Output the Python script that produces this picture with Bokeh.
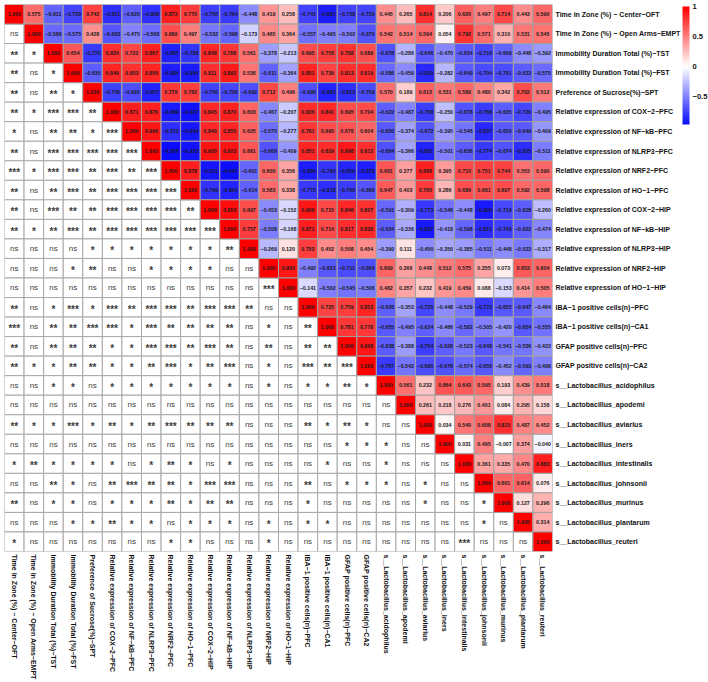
from bokeh.plotting import figure
from bokeh.models import ColumnDataSource, LinearColorMapper, ColorBar, FixedTicker, FactorRange
from bokeh.core.properties import value
from bokeh.embed import file_html
from bokeh.resources import INLINE
from bokeh.transform import transform
import math

labels = [
 "Time in Zone (%) − Center−OFT","Time in Zone (%) − Open Arms−EMPT","Immobility Duration Total (%)−TST",
 "Immobility Duration Total (%)−FST","Preference of Sucrose(%)−SPT","Relative expression of COX−2−PFC",
 "Relative expression of NF−kB−PFC","Relative expression of NLRP3−PFC","Relative expression of NRF2−PFC",
 "Relative expression of HO−1−PFC","Relative expression of COX−2−HIP","Relative expression of NF−kB−HIP",
 "Relative expression of NLRP3−HIP","Relative expression of NRF2−HIP","Relative expression of HO−1−HIP",
 "IBA−1 positive cells(n)−PFC","IBA−1 positive cells(n)−CA1","GFAP positive cells(n)−PFC","GFAP positive cells(n)−CA2",
 "s__Lactobacillus_acidophilus","s__Lactobacillus_apodemi","s__Lactobacillus_aviarius","s__Lactobacillus_iners",
 "s__Lactobacillus_intestinalis","s__Lactobacillus_johnsonii","s__Lactobacillus_murinus","s__Lactobacillus_plantarum",
 "s__Lactobacillus_reuteri"]

# upper triangle (from the diagonal rightwards), one list per row
corr_upper = [
 [1.000,0.575,-0.611,-0.729,0.742,-0.811,-0.620,-0.808,0.873,0.770,-0.756,-0.764,-0.448,0.419,0.258,-0.741,-0.881,-0.738,-0.729,0.445,0.265,0.814,0.206,0.620,0.497,0.714,0.443,0.590],
 [1.000,-0.586,-0.575,0.428,-0.663,-0.475,-0.568,0.689,0.497,-0.532,-0.598,-0.173,0.465,0.364,-0.557,-0.495,-0.502,-0.670,0.542,0.514,0.594,0.054,0.792,0.571,0.310,0.531,0.545],
 [1.000,0.654,-0.770,0.824,0.722,0.867,-0.867,-0.788,0.848,0.788,0.561,-0.378,-0.213,0.695,0.758,0.788,0.689,-0.678,-0.286,-0.646,-0.470,-0.634,-0.716,-0.609,-0.448,-0.392],
 [1.000,-0.635,0.849,0.803,0.850,-0.884,-0.894,0.811,0.892,0.536,-0.611,-0.364,0.851,0.739,0.813,0.819,-0.586,-0.459,-0.839,-0.282,-0.640,-0.704,-0.701,-0.633,-0.575],
 [1.000,-0.745,-0.692,-0.857,0.779,0.762,-0.740,-0.726,-0.692,0.712,0.496,-0.696,-0.860,-0.813,-0.709,0.570,0.189,0.613,0.531,0.589,0.480,0.342,0.702,0.512],
 [1.000,0.871,0.876,-0.889,-0.927,0.845,0.870,0.603,-0.467,-0.207,0.826,0.841,0.695,0.704,-0.622,-0.487,-0.758,-0.250,-0.678,-0.768,-0.635,-0.720,-0.495],
 [1.000,0.906,-0.813,-0.909,0.840,0.855,0.625,-0.570,-0.277,0.781,0.695,0.676,0.604,-0.650,-0.374,-0.672,-0.395,-0.546,-0.837,-0.650,-0.649,-0.409],
 [1.000,-0.956,-0.923,0.920,0.923,0.661,-0.669,-0.409,0.851,0.829,0.898,0.812,-0.684,-0.366,-0.861,-0.501,-0.636,-0.774,-0.674,-0.825,-0.511],
 [1.000,0.878,-0.911,-0.947,-0.601,0.600,0.356,-0.886,-0.795,-0.856,-0.878,0.661,0.377,0.866,0.395,0.710,0.751,0.744,0.553,0.590],
 [1.000,-0.799,-0.864,-0.614,0.583,0.338,-0.772,-0.818,-0.760,-0.668,0.647,0.403,0.765,0.286,0.689,0.681,0.697,0.592,0.598],
 [1.000,0.953,0.697,-0.453,-0.152,0.909,0.715,0.846,0.807,-0.591,-0.309,-0.773,-0.546,-0.448,-0.900,-0.719,-0.628,-0.260],
 [1.000,0.757,-0.508,-0.168,0.871,0.714,0.817,0.836,-0.634,-0.336,-0.897,-0.418,-0.598,-0.821,-0.743,-0.622,-0.474],
 [1.000,-0.269,0.120,0.753,0.452,0.508,0.454,-0.390,0.111,-0.450,-0.350,-0.385,-0.511,-0.448,-0.523,-0.317],
 [1.000,0.905,-0.492,-0.653,-0.711,-0.694,0.609,0.366,0.448,0.512,0.575,0.355,0.073,0.653,0.604],
 [1.000,-0.141,-0.502,-0.545,-0.506,0.482,0.357,0.232,0.419,0.459,0.088,-0.153,0.414,0.505],
 [1.000,0.725,0.759,0.853,-0.626,-0.353,-0.725,-0.448,-0.529,-0.772,-0.655,-0.647,-0.464],
 [1.000,0.781,0.778,-0.655,-0.495,-0.624,-0.466,-0.582,-0.505,-0.420,-0.654,-0.555],
 [1.000,0.908,-0.638,-0.388,-0.754,-0.626,-0.523,-0.648,-0.541,-0.536,-0.422],
 [1.000,-0.767,-0.542,-0.695,-0.676,-0.574,-0.655,-0.452,-0.593,-0.498],
 [1.000,0.561,0.232,0.664,0.643,0.595,0.193,0.439,0.518],
 [1.000,0.261,0.218,0.276,0.401,0.084,0.295,0.158],
 [1.000,0.034,0.540,0.608,0.815,0.487,0.452],
 [1.000,0.031,0.495,-0.007,0.374,-0.040],
 [1.000,0.361,0.335,0.470,0.883],
 [1.000,0.601,0.614,0.076],
 [1.000,0.127,0.296],
 [1.000,0.314],
 [1.000],
]

# lower triangle significance, row by row
sig_lower = [
 "",
 "ns",
 "** *",
 "** ns *",
 "** ns ** *",
 "** * *** *** **",
 "* ns ** ** * ***",
 "** ns *** *** *** *** ***",
 "*** * *** *** ** *** ** ***",
 "** ns ** *** ** *** *** *** ***",
 "** ns *** ** ** *** *** *** *** **",
 "** * ** *** ** *** *** *** *** *** ***",
 "ns ns ns ns * * * * * * * **",
 "ns ns ns * ** ns ns * * * * ns ns",
 "ns ns ns ns ns ns ns ns ns ns ns ns ns ***",
 "** ns * *** * *** ** *** *** ** *** *** ** ns ns",
 "*** ns ** ** *** *** * *** ** ** ** ** ns * ns **",
 "** ns ** ** ** * * *** *** ** *** ** ns ** ns ** **",
 "** * * ** ** * * ** *** * ** *** ns * ns *** ** ***",
 "ns ns * * ns * * * * * * * ns * ns * * ** *",
 "ns ns ns ns ns ns ns ns ns ns ns ns ns ns ns ns ns ns ns ns",
 "** * * *** * ** * ** *** ** ** ** ns ns ns ** * ** * ns ns",
 "ns ns ns ns ns ns ns ns ns ns ns ns ns ns ns ns ns * * * ns ns",
 "* ** * * * * ns * ** * ns * ns ns ns ns * ns ns * ns ns ns",
 "ns ns ** * ns ** *** ** ** * *** *** ns ns ns ** ns * * * ns * ns ns",
 "** ns * * ns * * * ** * ** ** ns ns ns * ns ns ns ns ns * ns ns *",
 "ns ns ns * * ** * * ns * * * ns * ns * * ns ns ns ns ns ns ns * ns",
 "* ns ns ns ns ns ns ns * * ns ns ns * ns ns ns ns ns ns ns ns ns *** ns ns ns",
]

cb_ticks = [-0.5, 0, 0.5, 1]

low = min(min(r) for r in corr_upper)
def col(v):
    if v < 0:
        c = int(round(255 * (1 + v)))
        return f"#{c:02x}{c:02x}ff"
    c = int(round(255 * (1 - v)))
    return f"#ff{c:02x}{c:02x}"
palette = [col(low + (1 - low) * i / 255) for i in range(256)]
mapper = LinearColorMapper(palette=palette, low=low, high=1)

ux, uy, uv, ut = [], [], [], []
for i, row in enumerate(corr_upper):
    for k, v in enumerate(row):
        ux.append(labels[i + k]); uy.append(labels[i]); uv.append(v); ut.append(f"{v:.3f}".replace("-", "−"))
nx, ny, nt, sx, sy, st, lx, ly = [], [], [], [], [], [], [], []
for i, s in enumerate(sig_lower):
    for j, t in enumerate(s.split()):
        lx.append(labels[j]); ly.append(labels[i])
        if t == "ns":
            nx.append(labels[j]); ny.append(labels[i]); nt.append(t)
        else:
            sx.append(labels[j]); sy.append(labels[i]); st.append(t)

p = figure(frame_width=548, frame_height=547,
           x_range=FactorRange(factors=labels), y_range=FactorRange(factors=labels[::-1]),
           x_axis_location="below", y_axis_location="right",
           toolbar_location=None, output_backend="svg",
           min_border_left=4, min_border_top=4, min_border_right=156, min_border_bottom=131,
           outline_line_color=None, background_fill_color="white")
p.grid.visible = False

p.rect(lx, ly, width=1, height=1, fill_color="white", line_color="#a8a8a8", line_width=1)
src = ColumnDataSource(dict(x=ux, y=uy, v=uv, t=ut))
p.rect("x", "y", width=1, height=1, source=src, fill_color=transform("v", mapper), line_color="#a0a0a0", line_width=1)
p.text("x", "y", text="t", source=src, text_font=value("Liberation Sans"), text_font_style="bold",
       text_font_size="5.3px", text_align="center", text_baseline="middle", text_color="#1a1a1a")
p.text(nx, ny, text=nt, text_font=value("Liberation Sans"), text_font_size="8px",
       text_align="center", text_baseline="middle", text_color="#404040")
p.text(sx, sy, text=st, y_offset=2, text_font=value("Liberation Sans"), text_font_size="10px", text_font_style="bold",
       text_align="center", text_baseline="middle", text_color="#404040")

for ax in (p.xaxis[0], p.yaxis[0]):
    ax.axis_line_color = None
    ax.major_tick_line_color = None
    ax.minor_tick_line_color = None
    ax.major_tick_out = 0
    ax.major_tick_in = 0
    ax.major_label_text_font = "Liberation Sans"
    ax.major_label_text_font_style = "bold"
    ax.major_label_text_font_size = "7px"
    ax.major_label_text_color = "#111111"
    ax.major_label_standoff = 3
p.xaxis[0].major_label_orientation = -math.pi / 2

cb = ColorBar(color_mapper=mapper, width=7, height=118, location=(678, 427),
              ticker=FixedTicker(ticks=cb_ticks), major_tick_line_color=None, bar_line_color=None,
              major_label_text_font="Liberation Sans", major_label_text_font_style="bold",
              major_label_text_font_size="7.5px", major_label_text_color="#111111",
              label_standoff=3, padding=0, margin=0, background_fill_color=None, border_line_color=None)
p.add_layout(cb)

open("out.html", "w").write(file_html(p, INLINE))
